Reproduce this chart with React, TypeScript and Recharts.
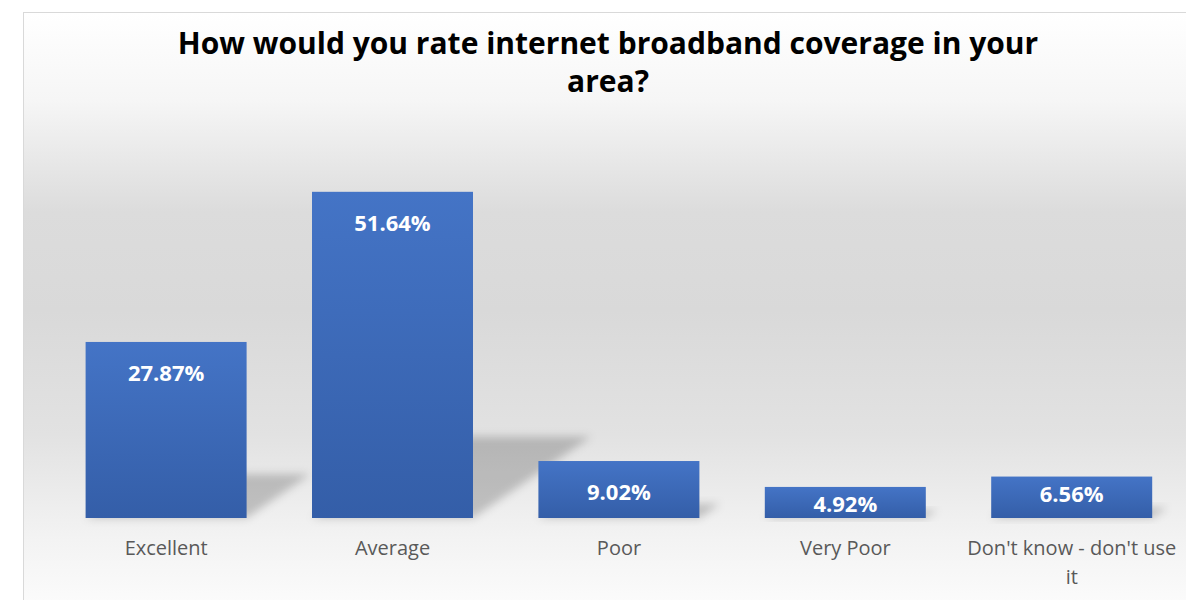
import React from 'react';
import { BarChart, Bar, XAxis, YAxis, LabelList } from 'recharts';

const categories = ['Excellent', 'Average', 'Poor', 'Very Poor', "Don't know - don't use it"];
const shares = [27.87, 51.64, 9.02, 4.92, 6.56];
const yTicks = [0, 10, 20, 30, 40, 50, 60];

const data = categories.map((name, i) => ({ name, value: shares[i] }));

const W = 1186;
const H = 600;
const TICK_FONT = "20px 'Open Sans', sans-serif";
const TICK_WRAP = 215;

// bar with a skewed, blurred floor shadow like the Excel preset
function ShadowBar(props: any) {
  const { x, y, width, height } = props;
  if (!height || height <= 0) return null;
  const bottom = y + height;
  const hs = height * 0.25;
  const dx = hs * 1.45;
  const pts = `${x},${bottom} ${x + width},${bottom} ${x + width + dx},${bottom - hs} ${x + dx},${bottom - hs}`;
  return (
    <g>
      <polygon points={pts} fill="#000" fillOpacity={0.2} filter="url(#shadowBlur)" />
      <rect x={x} y={y} width={width} height={height} fill="url(#barFill)" />
    </g>
  );
}

function ValueLabel(props: any) {
  const { x, y, width, height, value } = props;
  const off = height > 50 ? 30 : 16;
  return (
    <text
      x={x + width / 2}
      y={y + off}
      textAnchor="middle"
      dominantBaseline="central"
      fill="#ffffff"
      fontFamily="'Open Sans', sans-serif"
      fontWeight={700}
      fontSize={22}
    >
      {`${Number(value).toFixed(2)}%`}
    </text>
  );
}

// simple word wrap measured with a canvas
function wrapLabel(label: string, maxWidth: number): string[] {
  const ctx = document.createElement('canvas').getContext('2d');
  if (!ctx) return [label];
  ctx.font = TICK_FONT;
  const words = label.split(' ');
  const lines: string[] = [];
  let cur = '';
  words.forEach((w) => {
    const next = cur ? `${cur} ${w}` : w;
    if (cur && ctx.measureText(next).width > maxWidth) {
      lines.push(cur);
      cur = w;
    } else {
      cur = next;
    }
  });
  if (cur) lines.push(cur);
  return lines;
}

function CategoryTick(props: any) {
  const { x, y, payload } = props;
  const lines = wrapLabel(String(payload.value), TICK_WRAP);
  return (
    <text
      x={x}
      y={y}
      textAnchor="middle"
      fill="#595959"
      fontFamily="'Open Sans', sans-serif"
      fontSize={20}
    >
      {lines.map((ln, i) => (
        <tspan key={i} x={x} dy={i === 0 ? '0.71em' : 29}>
          {ln}
        </tspan>
      ))}
    </text>
  );
}

export default function App() {
  return (
    <div style={{ position: 'absolute', left: 0, top: 0, width: W, height: H, overflow: 'hidden', background: '#fff' }}>
      <div
        style={{
          position: 'absolute',
          left: 23,
          top: 12,
          width: 1200,
          height: 620,
          border: '1px solid #d9d9d9',
          background:
            'linear-gradient(to bottom, #ffffff 0%, #f6f6f6 14%, #dcdcdc 32%, #d9d9d9 48%, #e2e2e2 68%, #f3f3f3 85%, #ffffff 100%)',
        }}
      />
      <div
        style={{
          position: 'absolute',
          left: 108,
          width: 1000,
          top: 24,
          textAlign: 'center',
          fontFamily: "'Open Sans', sans-serif",
          fontWeight: 700,
          fontSize: 30,
          lineHeight: '38px',
          color: '#000',
        }}
      >
        How would you rate internet broadband coverage in your
        <br />
        area?
      </div>
      <div style={{ position: 'absolute', left: 0, top: 0 }}>
        <BarChart
          width={W}
          height={H}
          data={data}
          margin={{ top: 139, right: 1, bottom: 52, left: 53 }}
          barCategoryGap="14.4%"
        >
          <defs>
            <linearGradient id="barFill" x1="0" y1="0" x2="0" y2="1">
              <stop offset="0%" stopColor="#4474c6" />
              <stop offset="100%" stopColor="#345ea8" />
            </linearGradient>
            <filter id="shadowBlur" x="-20%" y="-50%" width="140%" height="200%">
              <feGaussianBlur stdDeviation="4" />
            </filter>
          </defs>
          <XAxis
            dataKey="name"
            axisLine={false}
            tickLine={false}
            interval={0}
            height={30}
            tick={<CategoryTick />}
            tickMargin={17}
          />
          <YAxis hide domain={[0, 60]} ticks={yTicks} />
          <Bar dataKey="value" shape={<ShadowBar />} isAnimationActive={false}>
            <LabelList dataKey="value" content={<ValueLabel />} />
          </Bar>
        </BarChart>
      </div>
    </div>
  );
}
